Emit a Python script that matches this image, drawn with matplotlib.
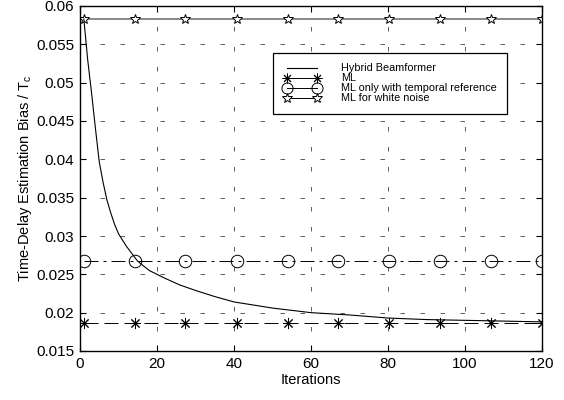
import numpy as np
import matplotlib
matplotlib.use('Agg')
from matplotlib import pyplot as plt
from matplotlib.lines import Line2D

plt.rcParams['font.family'] = ['Liberation Sans', 'DejaVu Sans']
plt.rcParams['lines.scale_dashes'] = False

# Hybrid beamformer curve
hybrid_iters = [1, 2, 3, 4, 5, 6, 7, 8, 9, 10, 12, 15, 18, 22, 26, 30, 35, 40,
                50, 60, 70, 80, 90, 100, 110, 120]
hybrid_bias = [0.0583, 0.0530, 0.0487, 0.0441, 0.0397, 0.0370, 0.0347, 0.0330,
               0.0315, 0.0303, 0.0287, 0.0267, 0.0255, 0.0245, 0.0236, 0.0229,
               0.0221, 0.0214, 0.0206, 0.0200, 0.0197, 0.0193, 0.0191, 0.0190,
               0.0189, 0.0188]

# constant reference levels
ml_bias = 0.0186
ml_temporal_bias = 0.0267
ml_white_bias = 0.0583

# iterations where the markers sit
marker_iters = [1, 14.2, 27.4, 40.7, 53.9, 67.1, 80.3, 93.6, 106.8, 120]

x_ticks = [0, 20, 40, 60, 80, 100, 120]
y_ticks = [0.015, 0.02, 0.025, 0.03, 0.035, 0.04, 0.045, 0.05, 0.055, 0.06]

fig = plt.figure(figsize=(5.64, 4.0), dpi=100)
ax = fig.add_axes([0.1418, 0.1225, 0.8192, 0.8625])

pt = 72.0 / 100  # one pixel in points

m = np.array(marker_iters)
ax.plot(m, np.full(len(m), ml_white_bias), color='0.5', lw=1.3,
        marker='*', ms=7.5, mfc='white', mec='black', mew=0.7)
ax.plot(m, np.full(len(m), ml_temporal_bias), color='black', lw=0.7,
        linestyle=(0, (14 * pt, 5 * pt, 3 * pt, 5 * pt)),
        marker='o', ms=9, mfc='none', mec='black', mew=0.7)
ax.plot(m, np.full(len(m), ml_bias), color='black', lw=0.7,
        linestyle=(0, (14 * pt, 6 * pt)),
        marker=(8, 2, 0), ms=8, mec='black', mew=0.7)
ax.plot(hybrid_iters, hybrid_bias, color='black', lw=0.8)

ax.set_xlim(0, 120)
ax.set_ylim(0.015, 0.06)
ax.set_xticks(x_ticks)
ax.set_yticks(y_ticks)
ax.set_xticklabels([str(t) for t in x_ticks])
ax.set_yticklabels(['0.015', '0.02', '0.025', '0.03', '0.035', '0.04',
                    '0.045', '0.05', '0.055', '0.06'])
ax.tick_params(direction='in', length=4, width=0.8, labelsize=11,
               top=True, right=True, pad=4)
for s in ax.spines.values():
    s.set_linewidth(1.0)

ax.grid(True, color='0.25', lw=0.6, linestyle=(0, (4.5 * pt, 15.5 * pt)))
ax.set_axisbelow(True)

ax.set_xlabel('Iterations', fontsize=10.5, labelpad=2)
ax.set_ylabel(r'Time-Delay Estimation Bias / T$_\mathregular{c}$', fontsize=10.5,
              labelpad=2)

handles = [
    Line2D([], [], color='black', lw=0.8),
    Line2D([], [], color='black', lw=0.7, marker=(8, 2, 0), ms=7, mew=0.7),
    Line2D([], [], color='black', lw=0.7, marker='o', ms=8, mfc='none', mew=0.7),
    Line2D([], [], color='black', lw=0.7, marker='*', ms=7, mfc='white', mew=0.7),
]
labels = ['Hybrid Beamformer', 'ML', 'ML only with temporal reference',
          'ML for white noise']
leg = ax.legend(handles, labels, loc='upper left', bbox_to_anchor=(0.417, 0.865),
                fontsize=7.8, numpoints=2, handlelength=3.4, handletextpad=1.9,
                labelspacing=0.0, borderpad=1.0, borderaxespad=0,
                fancybox=False, framealpha=1, edgecolor='black')
leg.get_frame().set_linewidth(0.9)

plt.savefig('out.png', dpi=100)
